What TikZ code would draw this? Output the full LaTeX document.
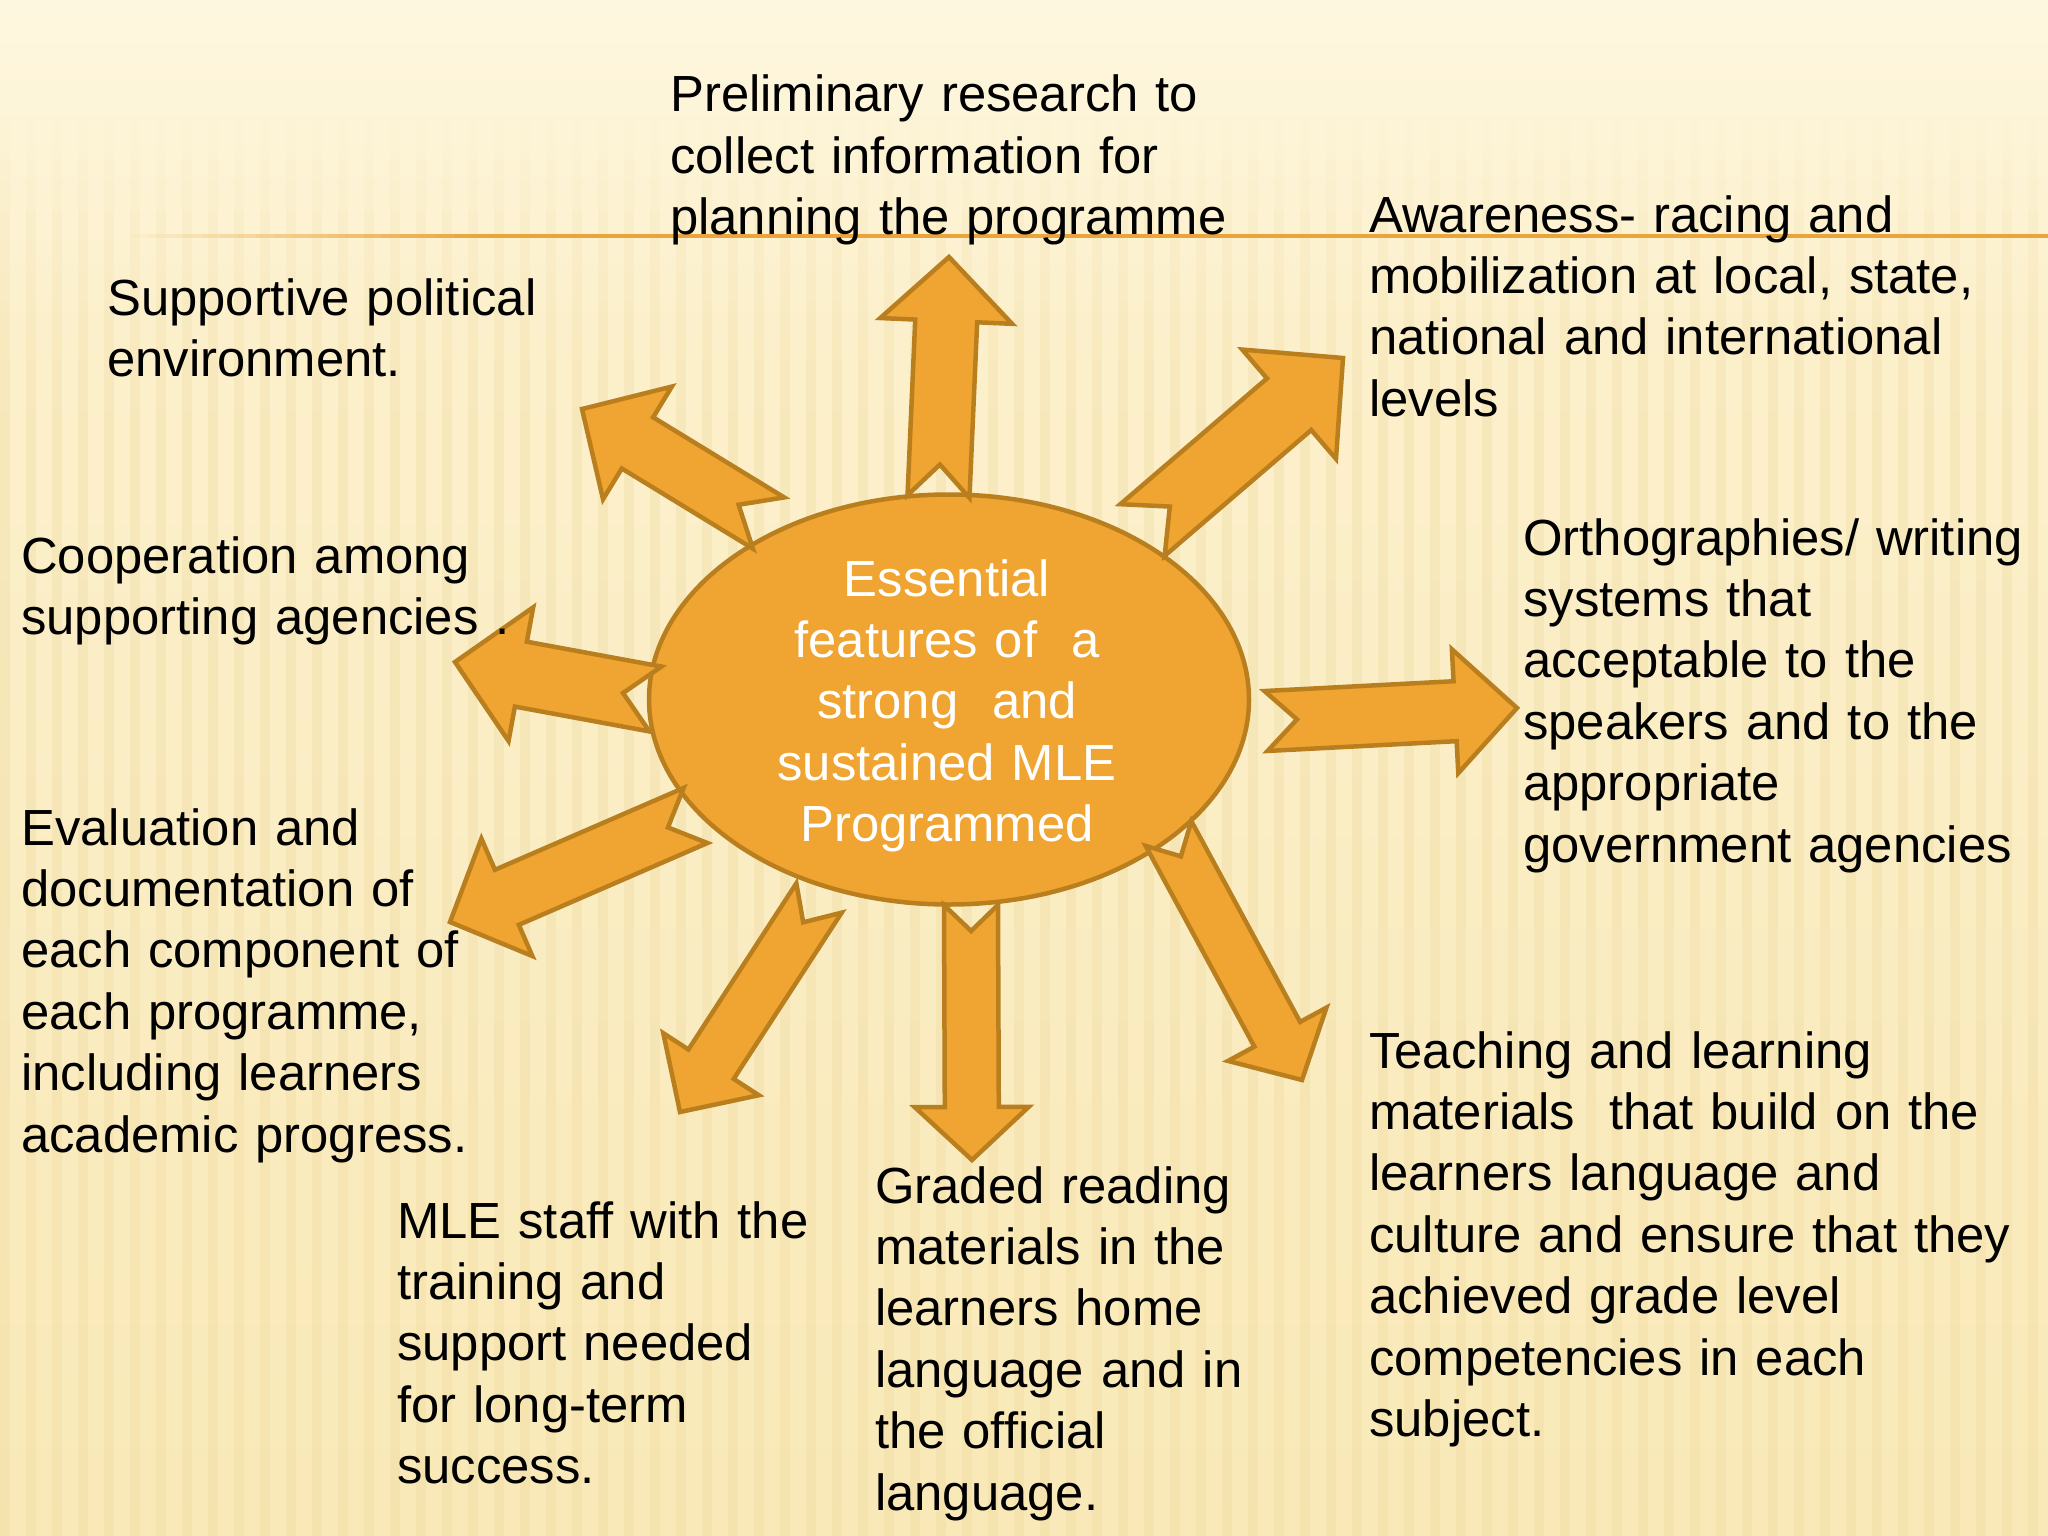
\documentclass[tikz,border=0pt]{standalone}
\usepackage{fontspec}
\setmainfont{Liberation Sans}
\usetikzlibrary{calc,shapes.geometric}
\definecolor{bgtop}{HTML}{FEF7DF}
\definecolor{bgmid}{HTML}{FCF0CC}
\definecolor{bgbot}{HTML}{F9E9B8}
\definecolor{stripe}{HTML}{E8CF8A}
\definecolor{aofill}{HTML}{F0A431}
\definecolor{aoline}{HTML}{B97F1F}
\definecolor{rulecol}{HTML}{EBA43A}
\tikzset{
  barrow/.style={fill=aofill, draw=aoline, line width=4.5pt, line join=miter},
  hubshape/.style={ellipse, fill=aofill, draw=aoline, line width=4.5pt,
    minimum width=600pt, minimum height=410pt, inner sep=0pt},
  txt/.style={anchor=base west, inner sep=0pt, text width=760pt, align=left,
    font=\fontsize{50.8}{61.4}\selectfont, text=black},
  hubtxt/.style={anchor=base, inner sep=0pt, text width=560pt, align=center,
    font=\fontsize{50.8}{61.4}\selectfont, text=white},
}
% tail, tip, shaft half-width, head half-width, head length, notch depth
\newcommand{\notcharrow}[6]{%
  \coordinate (#1-q) at ($(#2)!#5pt!(#1)$);
  \filldraw[barrow]
    ($(#1)!#3pt!90:(#2)$) --
    ($(#1-q)!#3pt!90:(#2)$) --
    ($(#1-q)!#4pt!90:(#2)$) --
    (#2) --
    ($(#1-q)!#4pt!-90:(#2)$) --
    ($(#1-q)!#3pt!-90:(#2)$) --
    ($(#1)!#3pt!-90:(#2)$) --
    ($(#1)!#6pt!(#2)$) -- cycle;
}
\begin{document}
\begin{tikzpicture}[x=1pt,y=-1pt]
\useasboundingbox (0,0) rectangle (2048,1536);
% background
\fill[bgmid] (0,0) rectangle (2048,1536);
\shade[top color=bgtop, bottom color=bgmid] (0,0) rectangle (2048,320);
\shade[top color=bgmid, bottom color=bgbot] (0,320) rectangle (2048,1536);
\foreach \i in {0,...,79}{
  \foreach \k in {1,...,8}{
    \fill[stripe, opacity=0.025*\k] ({\i*26},{90+\k*30}) rectangle ({\i*26+10},{120+\k*30});
  }
  \fill[stripe, opacity=0.21] ({\i*26},360) rectangle ({\i*26+10},1536);
}
% top rule
\foreach \k in {0,...,19}{
  \fill[rulecol, opacity={(\k+1)/20}] ({130+\k*18},234) rectangle ({148+\k*18},238);
}
\fill[rulecol] (490,234) rectangle (2048,238);

% hub
\node[hubshape] (hub) at (949,699.5) {};
\node[hubtxt] (hubtext) at (947,596) {Essential\\features of\ \ a\\strong\ \ and\\sustained MLE\\Programmed};

% arrow coordinates
\coordinate (tU) at (938.5,496.5);  \coordinate (pU) at (949,257);
\coordinate (tUL) at (768.5,523);   \coordinate (pUL) at (582,409);
\coordinate (tUR) at (1142.5,530);  \coordinate (pUR) at (1343,358);
\coordinate (tL) at (655.5,699);    \coordinate (pL) at (455,662);
\coordinate (tR) at (1266,721);     \coordinate (pR) at (1517,708);
\coordinate (tLL) at (695.5,815.5); \coordinate (pLL) at (450,922);
\coordinate (tDL) at (819,898);     \coordinate (pDL) at (680,1112);
\coordinate (tD) at (971,905);      \coordinate (pD) at (972,1160);
\coordinate (tDR) at (1168.5,833.5);\coordinate (pDR) at (1302,1080);

\notcharrow{tU}{pU}{31}{66}{64}{32}
\notcharrow{tUL}{pUL}{30}{66}{65}{35}
\notcharrow{tUR}{pUR}{34}{72}{71}{36}
\notcharrow{tL}{pL}{33}{68}{67}{33}
\notcharrow{tR}{pR}{30}{62}{62}{31}
\notcharrow{tLL}{pLL}{30}{64}{62}{30}
\notcharrow{tDL}{pDL}{27}{57}{57}{29}
\notcharrow{tD}{pD}{27}{57}{53}{26}
\notcharrow{tDR}{pDR}{26}{56}{52}{26}

% texts
\node[txt] (research) at (670,112) {Preliminary research to\\collect information for\\planning the programme};
\node[txt] (awareness) at (1369,232) {Awareness- racing and\\mobilization at local, state,\\national and international\\levels};
\node[txt] (political) at (107,315) {Supportive political\\environment.};
\node[txt] (cooperation) at (21,573) {Cooperation among\\supporting agencies~.};
\node[txt] (orthography) at (1523,555) {Orthographies/ writing\\systems that\\acceptable to the\\speakers and to the\\appropriate\\government agencies};
\node[txt] (evaluation) at (21,845) {Evaluation and\\documentation of\\each component of\\each programme,\\including learners\\academic progress.};
\node[txt] (staff) at (397,1238) {MLE staff with the\\training and\\support needed\\for long-term\\success.};
\node[txt] (graded) at (875,1203) {Graded reading\\materials in the\\learners home\\language and in\\the official\\language.};
\node[txt] (teaching) at (1369,1068) {Teaching and learning\\materials\ \ that build on the\\learners language and\\culture and ensure that they\\achieved grade level\\competencies in each\\subject.};
\end{tikzpicture}
\end{document}
